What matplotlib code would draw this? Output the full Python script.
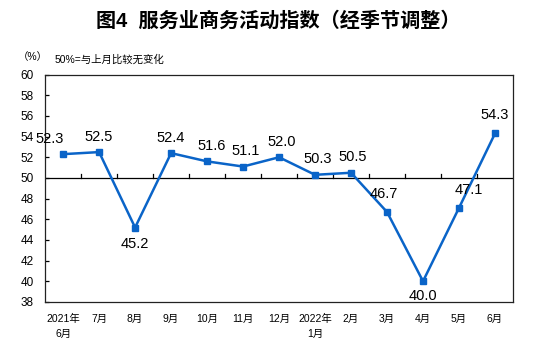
import numpy as np
import matplotlib
matplotlib.use("Agg")
import matplotlib.pyplot as plt

plt.rcParams['font.family'] = ['Liberation Sans', 'Noto Sans CJK SC', 'DejaVu Sans']

months = ["2021年\n6月", "7月", "8月", "9月", "10月", "11月", "12月",
          "2022年\n1月", "2月", "3月", "4月", "5月", "6月"]
values = [52.3, 52.5, 45.2, 52.4, 51.6, 51.1, 52.0, 50.3, 50.5, 46.7, 40.0, 47.1, 54.3]
# label offsets in points (dx, dy)
label_offsets = [(-10, 6), (0, 6), (0, -17), (0, 6), (3, 6), (2, 6), (2, 6),
                 (2, 6), (1, 6), (-2, 8), (0, -16), (7, 8), (0, 8)]

BLUE = "#0a64c8"

fig = plt.figure(figsize=(5.57, 3.47), dpi=100)
ax = fig.add_axes([0.081, 0.130, 0.840, 0.655])

x = np.arange(len(values))
ax.plot(x, values, color=BLUE, lw=1.8, marker="s", markersize=4.5, zorder=3)

for xi, v, (dx, dy) in zip(x, values, label_offsets):
    ax.annotate("%.1f" % v, (xi, v), xytext=(dx, dy), textcoords="offset points",
                ha="center", va="bottom", fontsize=10.5)

# 50 line with small upward ticks between months
ax.axhline(50, color="black", lw=0.9, zorder=2)
for b in np.arange(0.5, len(values) - 1, 1.0):
    ax.plot([b, b], [50, 50.35], color="black", lw=0.9, zorder=2)

ax.set_xlim(-0.5, len(values) - 0.5)
ax.set_ylim(38, 60)
ax.set_yticks(np.arange(38, 61, 2))
ax.tick_params(axis="y", direction="in", length=3, labelsize=8.5, pad=8, width=0.9)
ax.set_xticks(x)
ax.set_xticklabels(months, fontsize=7.5, va="top", linespacing=1.5)
ax.tick_params(axis="x", length=0, pad=9)
for s in ax.spines.values():
    s.set_linewidth(0.9)
    s.set_color("#222222")

fig.text(0.5, 0.94, "图4  服务业商务活动指数（经季节调整）", ha="center", va="center",
         fontsize=14.5, fontweight="bold")
fig.text(0.032, 0.835, "（%）", ha="left", va="center", fontsize=7.5)
fig.text(0.098, 0.828, "50%=与上月比较无变化", ha="left", va="center", fontsize=7.5)

fig.savefig("out.png", dpi=100)
